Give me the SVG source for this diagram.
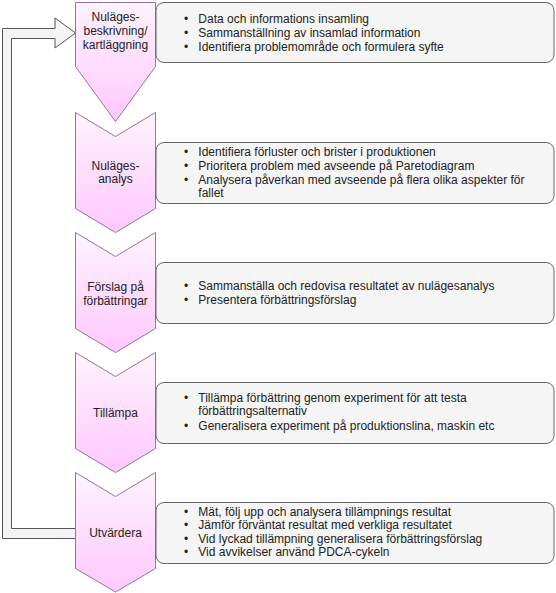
<svg xmlns="http://www.w3.org/2000/svg" width="556" height="593" viewBox="0 0 556 593">
<defs>
<linearGradient id="pink" x1="0" y1="0" x2="0" y2="1">
<stop offset="0" stop-color="#fdf3fd"/>
<stop offset="1" stop-color="#ffc8ff"/>
</linearGradient>
<style>
.chev{fill:url(#pink);stroke:#9673a6;stroke-width:1}
.box{fill:#f5f5f5;stroke:#666666;stroke-width:1}
.lbl{font-family:"Liberation Sans",Arial,sans-serif;font-size:12px;fill:#222;text-anchor:middle}
.txt{font-family:"Liberation Sans",Arial,sans-serif;font-size:12px;fill:#222}
.bul{font-family:"Liberation Sans",Arial,sans-serif;font-size:12px;fill:#222;text-anchor:middle}
.arr{fill:#f5f5f5;stroke:#555555;stroke-width:1}
</style>
</defs>
<rect width="556" height="593" fill="#ffffff"/>
<g id="connectors">
<path class="arr" d="M75.5,538.5 H2.5 V28.5 H55 V18 L75.5,33 L55,48 V38.5 H11.5 V528.5 H75.5"/>
</g>
<g id="step1">
<path class="chev" d="M75.5,2.5 H155.5 V66.5 L115.5,121.5 L75.5,66.5 Z"/>
<text class="lbl" x="115.5" y="20.5">Nuläges-</text>
<text class="lbl" x="115.5" y="34.5">beskrivning/</text>
<text class="lbl" x="115.5" y="48.5">kartläggning</text>
</g>
<g id="step2">
<path class="chev" d="M75.5,112.5 L115.5,136.5 L155.5,112.5 V208.5 L115.5,232.5 L75.5,208.5 Z"/>
<text class="lbl" x="115.5" y="169.5">Nuläges-</text>
<text class="lbl" x="115.5" y="183">analys</text>
</g>
<g id="step3">
<path class="chev" d="M75.5,232.5 L115.5,256.5 L155.5,232.5 V328.5 L115.5,352.5 L75.5,328.5 Z"/>
<text class="lbl" x="115.5" y="291">Förslag på</text>
<text class="lbl" x="115.5" y="305">förbättringar</text>
</g>
<g id="step4">
<path class="chev" d="M75.5,352.5 L115.5,376.5 L155.5,352.5 V448.5 L115.5,472.5 L75.5,448.5 Z"/>
<text class="lbl" x="115.5" y="416.5">Tillämpa</text>
</g>
<g id="step5">
<path class="chev" d="M75.5,472.5 L115.5,496.5 L155.5,472.5 V568.5 L115.5,592 L75.5,568.5 Z"/>
<text class="lbl" x="115.5" y="537">Utvärdera</text>
</g>
<g id="box1">
<rect class="box" x="156" y="2.5" width="398" height="60" rx="8" ry="8"/>
<text class="bul" x="186" y="22.5">•</text><text class="txt" x="198.3" y="22.5">Data och informations insamling</text>
<text class="bul" x="186" y="36.5">•</text><text class="txt" x="198.3" y="36.5">Sammanställning av insamlad information</text>
<text class="bul" x="186" y="50.5">•</text><text class="txt" x="198.3" y="50.5">Identifiera problemområde och formulera syfte</text>
</g>
<g id="box2">
<rect class="box" x="156" y="142.5" width="398" height="61" rx="8" ry="8"/>
<text class="bul" x="186" y="156.3">•</text><text class="txt" x="198.3" y="156.3">Identifiera förluster och brister i produktionen</text>
<text class="bul" x="186" y="170">•</text><text class="txt" x="198.3" y="170">Prioritera problem med avseende på Paretodiagram</text>
<text class="bul" x="186" y="183.7">•</text><text class="txt" x="198.3" y="183.7">Analysera påverkan med avseende på flera olika aspekter för</text>
<text class="txt" x="198.3" y="197.4">fallet</text>
</g>
<g id="box3">
<rect class="box" x="156" y="262.5" width="398" height="61" rx="8" ry="8"/>
<text class="bul" x="186" y="289.5">•</text><text class="txt" x="198.3" y="289.5">Sammanställa och redovisa resultatet av nulägesanalys</text>
<text class="bul" x="186" y="303.5">•</text><text class="txt" x="198.3" y="303.5">Presentera förbättringsförslag</text>
</g>
<g id="box4">
<rect class="box" x="156" y="382.5" width="398" height="61" rx="8" ry="8"/>
<text class="bul" x="186" y="401.5">•</text><text class="txt" x="198.3" y="401.5">Tillämpa förbättring genom experiment för att testa</text>
<text class="txt" x="198.3" y="415.3">förbättringsalternativ</text>
<text class="bul" x="186" y="429.5">•</text><text class="txt" x="198.3" y="429.5">Generalisera experiment på produktionslina, maskin etc</text>
</g>
<g id="box5">
<rect class="box" x="156" y="502.5" width="398" height="61" rx="8" ry="8"/>
<text class="bul" x="186" y="515.5">•</text><text class="txt" x="198.3" y="515.5">Mät, följ upp och analysera tillämpnings resultat</text>
<text class="bul" x="186" y="529">•</text><text class="txt" x="198.3" y="529">Jämför förväntat resultat med verkliga resultatet</text>
<text class="bul" x="186" y="542.5">•</text><text class="txt" x="198.3" y="542.5">Vid lyckad tillämpning generalisera förbättringsförslag</text>
<text class="bul" x="186" y="556">•</text><text class="txt" x="198.3" y="556">Vid avvikelser använd PDCA-cykeln</text>
</g>
</svg>
